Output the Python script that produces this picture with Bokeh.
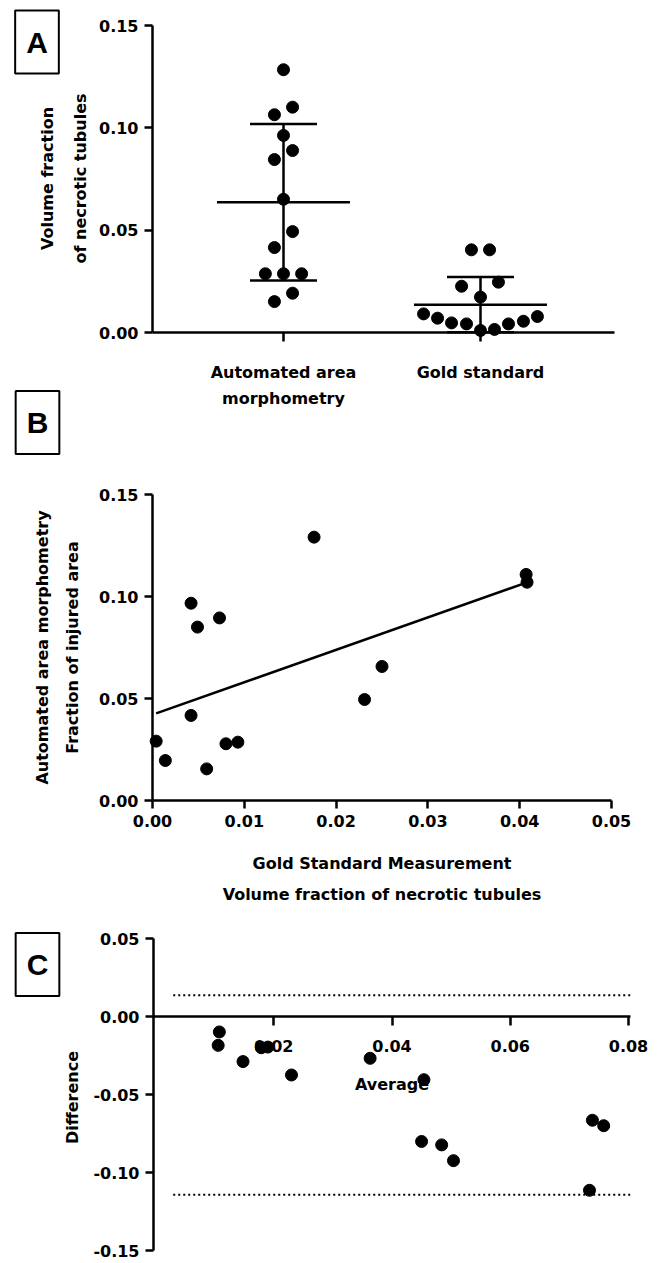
import numpy as np
from bokeh.plotting import figure
from bokeh.models import Label, FixedTicker, NumeralTickFormatter, Range1d
from bokeh.layouts import column
from bokeh.embed import file_html
from bokeh.resources import INLINE

# ---------------- Data ----------------
# Panel A: scatter with mean +/- SD
categories = ["Automated area\nmorphometry", "Gold standard"]
auto_values = [0.1284, 0.1101, 0.1064, 0.0963, 0.0889, 0.0845, 0.0651, 0.0493,
               0.0415, 0.0287, 0.0287, 0.0287, 0.0192, 0.0151]
auto_jitter = [0.0, 0.046, -0.046, 0.0, 0.046, -0.046, 0.0, 0.046,
               -0.046, -0.092, 0.0, 0.092, 0.046, -0.046]
gold_values = [0.0404, 0.0404, 0.0226, 0.0246, 0.0173, 0.0091, 0.0070, 0.0047,
               0.0042, 0.0010, 0.0015, 0.0042, 0.0055, 0.0078]
gold_jitter = [-0.046, 0.046, -0.096, 0.091, 0.0, -0.289, -0.218, -0.147,
               -0.071, 0.0, 0.071, 0.142, 0.218, 0.289]

# Panel B: correlation
gold_b = [0.0004, 0.0014, 0.0042, 0.0049, 0.0073, 0.0042, 0.0059, 0.0080,
          0.0093, 0.0176, 0.0231, 0.0250, 0.0407, 0.0408]
auto_b = [0.0291, 0.0196, 0.0967, 0.0850, 0.0895, 0.0417, 0.0155, 0.0278,
          0.0286, 0.1291, 0.0495, 0.0657, 0.1108, 0.1070]

# Panel C: Bland-Altman
avg_c = [0.0108, 0.0106, 0.0148, 0.0179, 0.0190, 0.0230, 0.0363, 0.0454,
         0.0450, 0.0484, 0.0504, 0.0739, 0.0758, 0.0734]
diff_c = [-0.0099, -0.0185, -0.0289, -0.0200, -0.0196, -0.0375, -0.0268, -0.0405,
          -0.0801, -0.0823, -0.0924, -0.0665, -0.0700, -0.1114]
loa_x_extent = [0.003, 0.0803]

y_ticks_a = [0.0, 0.05, 0.10, 0.15]
x_ticks_b = [0.0, 0.01, 0.02, 0.03, 0.04, 0.05]
y_ticks_b = [0.0, 0.05, 0.10, 0.15]
x_ticks_c = [0.02, 0.04, 0.06, 0.08]
y_ticks_c = [-0.15, -0.10, -0.05, 0.0, 0.05]

# ---------------- Layout (page pixels) ----------------
W = 656
FONT = "DejaVu Sans"
TITLE_SIZE = "16px"
TICK_SIZE = "16px"
LW = 2.5


def lin(p0, v0, p1, v1):
    k = (v1 - v0) / (p1 - p0)
    return lambda px: v0 + (px - p0) * k


def make_fig(H, xmap, ymap, top):
    p = figure(width=W, height=H,
               x_range=Range1d(xmap(0), xmap(W)),
               y_range=Range1d(ymap(top + H), ymap(top)),
               min_border=0, output_backend="svg", toolbar_location=None)
    p.outline_line_color = None
    p.xgrid.visible = False
    p.ygrid.visible = False
    p.background_fill_color = "white"
    p.border_fill_color = "white"
    for ax in (p.xaxis[0], p.yaxis[0]):
        ax.axis_line_width = LW
        ax.axis_line_color = "black"
        ax.major_tick_line_width = LW
        ax.major_tick_line_color = "black"
        ax.major_tick_out = 8
        ax.major_tick_in = 0
        ax.minor_tick_line_color = None
        ax.major_label_text_font = FONT
        ax.major_label_text_font_size = TICK_SIZE
        ax.major_label_text_font_style = "bold"
        ax.major_label_text_color = "black"
        ax.major_label_standoff = 6
    return p


def text(p, s, x, y, angle=0.0, x_units="screen", y_units="screen", size=TITLE_SIZE):
    p.add_layout(Label(x=x, y=y, x_units=x_units, y_units=y_units, text=s, angle=angle,
                       text_font=FONT, text_font_size=size, text_font_style="bold",
                       text_color="black", text_align="center", text_baseline="middle"))


def box_label(p, s, x, y):
    p.add_layout(Label(x=x, y=y, x_units="screen", y_units="screen", text=s,
                       text_font="Liberation Sans", text_font_size="30px",
                       text_font_style="bold", text_color="black",
                       text_align="center", text_baseline="middle",
                       border_line_color="black", border_line_width=2,
                       background_fill_color="white", padding=(11, 15)))


# ---------------- Panel A ----------------
TOP_A, H_A = 0, 458
xa = lin(283, 1.0, 480, 2.0)
ya = lin(332, 0.0, 25, 0.15)
pA = make_fig(H_A, xa, ya, TOP_A)
pA.xaxis.fixed_location = 0.0
pA.xaxis.bounds = (xa(152), xa(614))
pA.xaxis.ticker = FixedTicker(ticks=[1, 2])
pA.xaxis.major_label_overrides = {1: "", 2: ""}
pA.xaxis.major_tick_out = 9
pA.yaxis.fixed_location = xa(152)
pA.yaxis.bounds = (0, 0.15)
pA.yaxis.ticker = FixedTicker(ticks=y_ticks_a)
pA.yaxis.formatter = NumeralTickFormatter(format="0.00")

for i, (vals, jit) in enumerate([(auto_values, auto_jitter), (gold_values, gold_jitter)]):
    c = i + 1
    v = np.array(vals)
    m = v.mean()
    sd = v.std(ddof=1)
    pA.scatter(c + np.array(jit), v, size=12, color="black")
    pA.segment(x0=[c, c - 0.3375, c - 0.17, c - 0.17], y0=[m - sd, m, m + sd, m - sd],
               x1=[c, c + 0.3375, c + 0.17, c + 0.17], y1=[m + sd, m, m + sd, m - sd],
               line_width=LW, line_color="black")

bA = TOP_A + H_A
cat_lines = [c.split("\n") for c in categories]
for i, lines in enumerate(cat_lines):
    for j, ln in enumerate(lines):
        text(pA, ln, i + 1, bA - (371.5 + 26.5 * j), x_units="data")

text(pA, "Volume fraction", 47, bA - 178, angle=np.pi / 2)
text(pA, "of necrotic tubules", 80, bA - 178, angle=np.pi / 2)
box_label(pA, "A", 36.5, bA - 41.5)
box_label(pA, "B", 37, bA - 422)

# ---------------- Panel B ----------------
TOP_B, H_B = 458, 457
xb = lin(152, 0.0, 611, 0.05)
yb = lin(800, 0.0, 494, 0.15)
pB = make_fig(H_B, xb, yb, TOP_B)
pB.xaxis.fixed_location = 0.0
pB.xaxis.bounds = (0, 0.05)
pB.xaxis.ticker = FixedTicker(ticks=x_ticks_b)
pB.xaxis.formatter = NumeralTickFormatter(format="0.00")
pB.yaxis.fixed_location = 0.0
pB.yaxis.bounds = (0, 0.15)
pB.yaxis.ticker = FixedTicker(ticks=y_ticks_b)
pB.yaxis.formatter = NumeralTickFormatter(format="0.00")

slope, intercept = np.polyfit(gold_b, auto_b, 1)
xfit = np.array([min(gold_b), max(gold_b)])
pB.line(xfit, slope * xfit + intercept, line_width=LW, line_color="black")
pB.scatter(gold_b, auto_b, size=12, color="black")

bB = TOP_B + H_B
text(pB, "Automated area morphometry", 42, bB - 647, angle=np.pi / 2)
text(pB, "Fraction of injured area", 72, bB - 647, angle=np.pi / 2)
text(pB, "Gold Standard Measurement", 0.025, bB - 863, x_units="data")
text(pB, "Volume fraction of necrotic tubules", 0.025, bB - 894, x_units="data")

# ---------------- Panel C ----------------
TOP_C, H_C = 915, 346
xc = lin(155, 0.0, 628, 0.08)
yc = lin(1016, 0.0, 938, 0.05)
pC = make_fig(H_C, xc, yc, TOP_C)
pC.xaxis.fixed_location = 0.0
pC.xaxis.bounds = (xc(153), xc(630))
pC.xaxis.ticker = FixedTicker(ticks=x_ticks_c)
pC.xaxis.formatter = NumeralTickFormatter(format="0.00")
pC.xaxis.major_tick_out = 9
pC.xaxis.major_label_standoff = 14
pC.yaxis.fixed_location = xc(153)
pC.yaxis.bounds = (-0.15, 0.05)
pC.yaxis.ticker = FixedTicker(ticks=y_ticks_c)
pC.yaxis.formatter = NumeralTickFormatter(format="0.00")

d = np.array(diff_c)
bias = d.mean()
sd_d = d.std(ddof=1)
for lim in (bias + 1.96 * sd_d, bias - 1.96 * sd_d):
    pC.line(loa_x_extent, [lim, lim], line_width=2, line_color="black", line_dash="2 3")
pC.scatter(avg_c, diff_c, size=12, color="black")

bC = TOP_C + H_C
text(pC, "Average", 0.04, bC - 1084, x_units="data")
text(pC, "Difference", 72, bC - 1097, angle=np.pi / 2)
box_label(pC, "C", 37, bC - 964)

layout = column(pA, pB, pC)
open("out.html", "w").write(file_html(layout, INLINE))
